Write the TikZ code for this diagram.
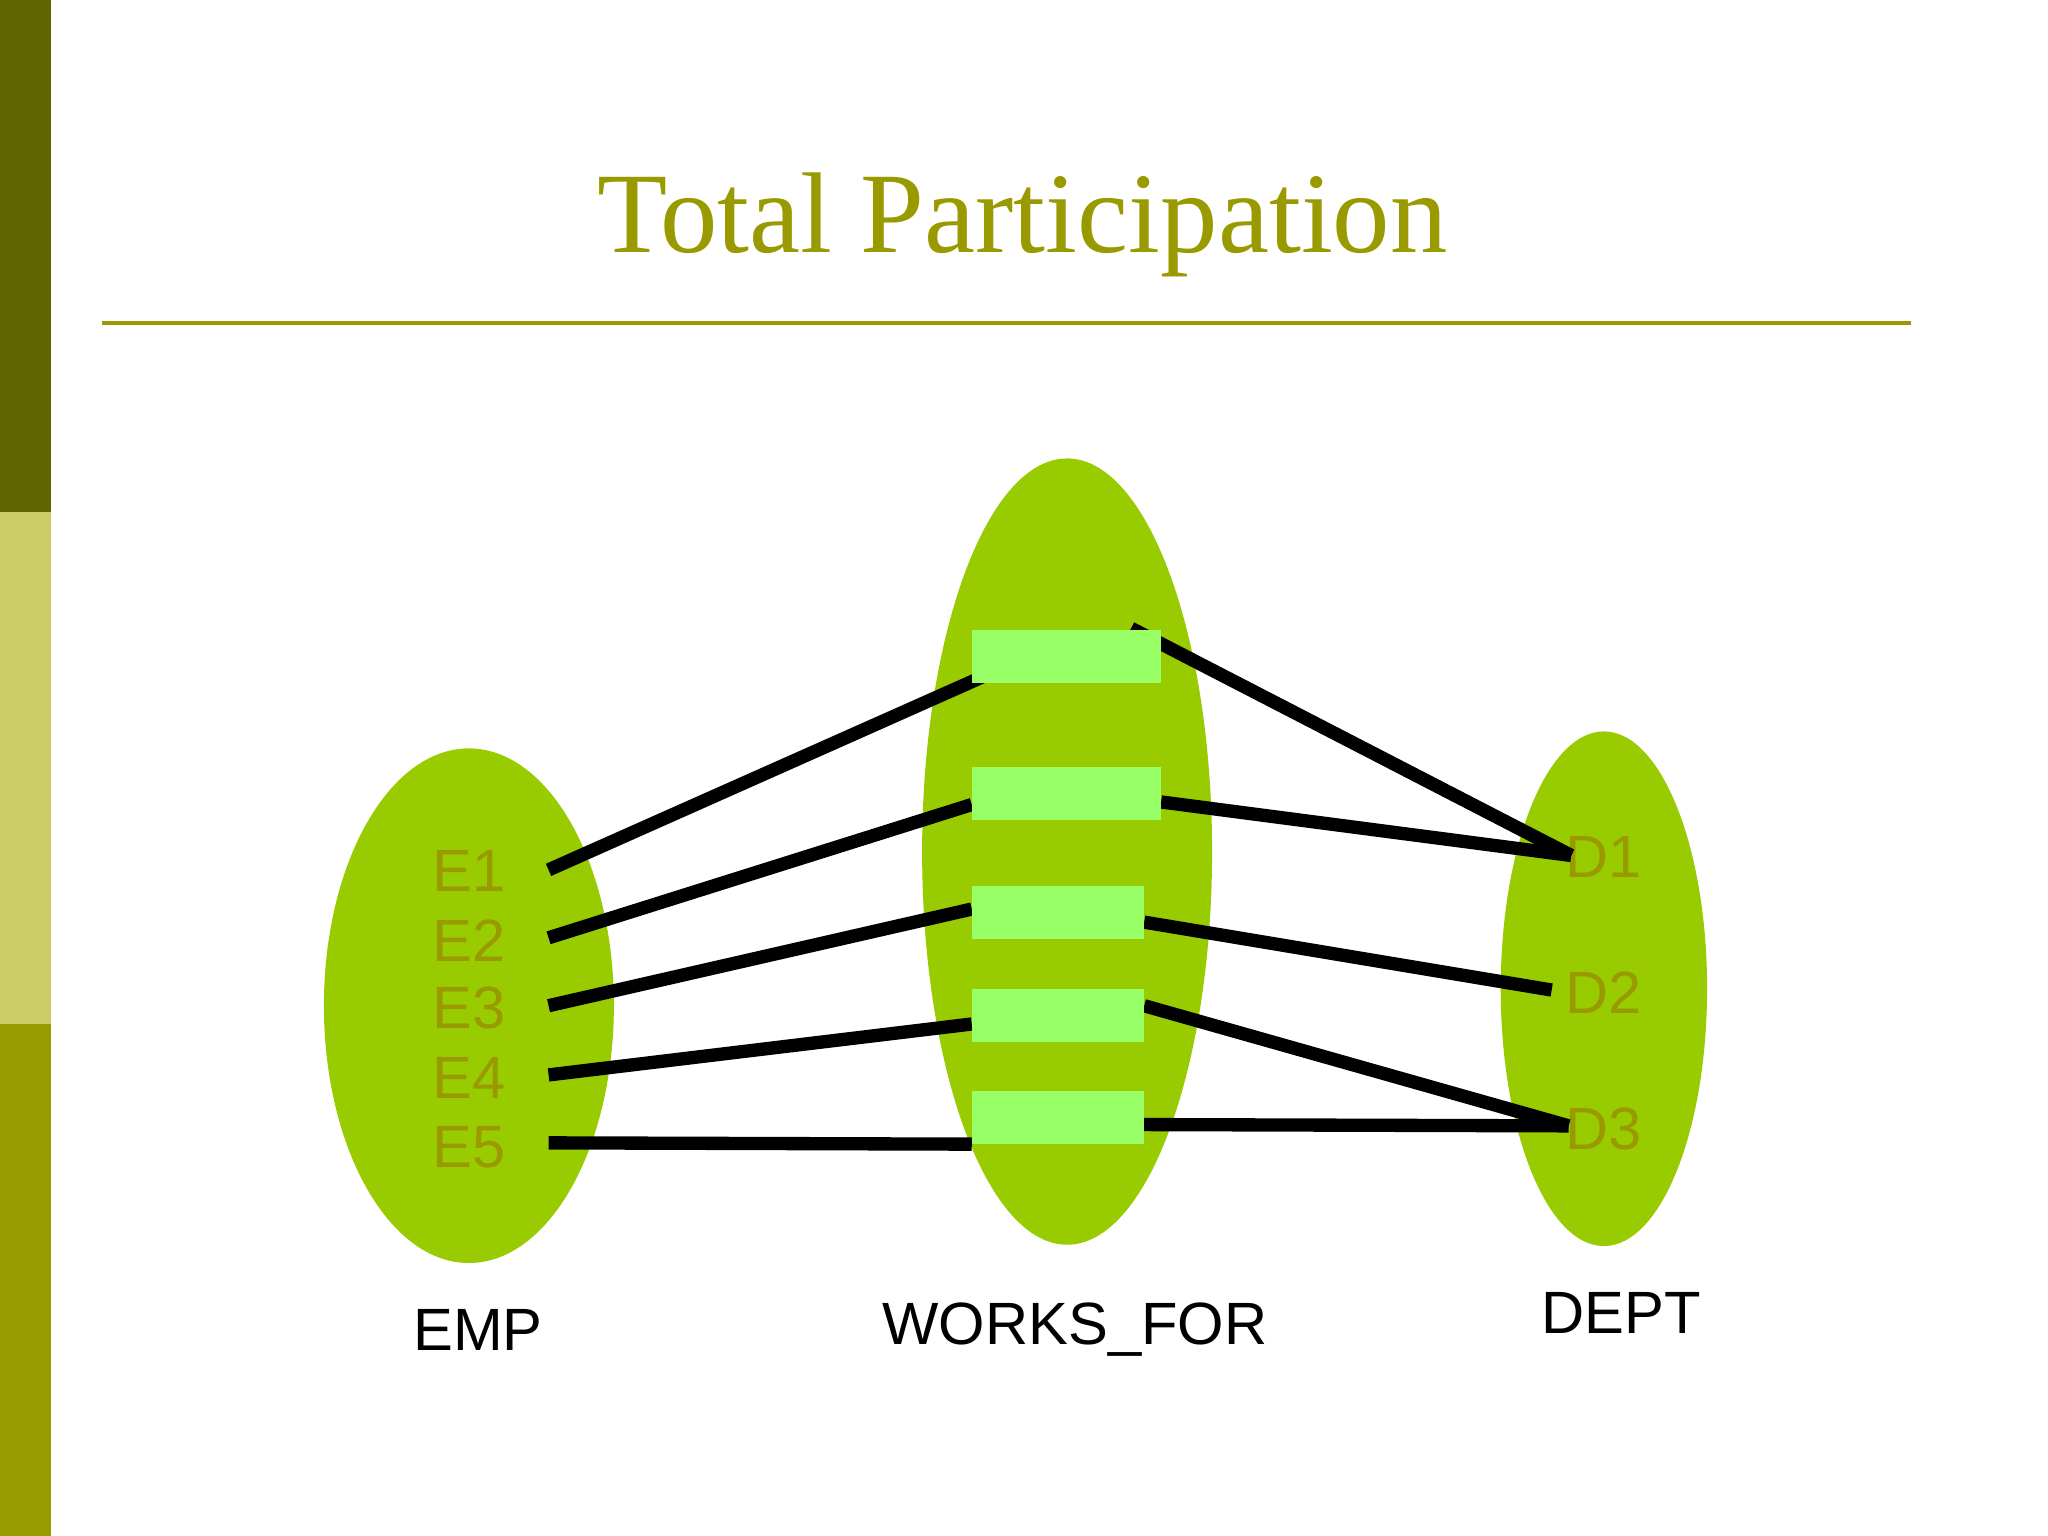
\documentclass[tikz,border=0pt]{standalone}
\usepackage{fontspec}
\setmainfont{Liberation Serif}
\setsansfont{Liberation Sans}
\definecolor{olive1}{HTML}{5F6300}
\definecolor{olive2}{HTML}{CCCC66}
\definecolor{olive3}{HTML}{999900}
\definecolor{ellg}{HTML}{99CC00}
\definecolor{boxg}{HTML}{99FF66}
\begin{document}
\begin{tikzpicture}[x=0.01cm,y=-0.01cm,
  ell/.style={fill=ellg,draw=none},
  rel/.style={fill=boxg,draw=none},
  lnk/.style={line width=2.9pt,black},
  ent/.style={font=\sffamily\fontsize{13}{13}\selectfont,text=olive3},
  caplabel/.style={font=\sffamily\fontsize{13}{13}\selectfont,text=black}]
\useasboundingbox (0,0) rectangle (1568,1176);
\fill[white] (0,0) rectangle (1568,1176);
\fill[olive1] (0,0) rectangle (39,392);
\fill[olive2] (0,392) rectangle (39,784);
\fill[olive3] (0,784) rectangle (39,1176);
\node[text=olive3,font=\fontsize{25}{25}\selectfont] (title) at (783,172) {Total Participation};
\draw[olive3,line width=0.9pt] (78,247) -- (1463,247);
\fill[ell] (359,770) ellipse [x radius=111,y radius=197];
\fill[ell] (817,652) ellipse [x radius=111,y radius=301];
\fill[ell] (1228,757) ellipse [x radius=79,y radius=197];
\foreach \i/\y in {1/667,2/720,3/772,4/825,5/878} \node[ent] (e\i) at (359,\y) {E\i};
\node[ent] (d1) at (1228,656) {D1};
\node[ent] (d2) at (1228,760) {D2};
\node[ent] (d3) at (1228,864) {D3};
\coordinate (e1r) at (420,666); \coordinate (e2r) at (420,718); \coordinate (e3r) at (420,770);
\coordinate (e4r) at (420,823); \coordinate (e5r) at (420,875);
\coordinate (d1l) at (1203,655); \coordinate (d2l) at (1188,758); \coordinate (d3l) at (1201,862);
\draw[lnk] (e1r) -- (755,517);
\draw[lnk] (866,481) -- (d1l);
\draw[lnk] (889,614) -- (d1l);
\draw[lnk] (e2r) -- (744,616);
\draw[lnk] (e3r) -- (744,696);
\draw[lnk] (876,706) -- (d2l);
\draw[lnk] (e4r) -- (744,784);
\draw[lnk] (876,770) -- (d3l);
\draw[lnk] (e5r) -- (744,876);
\draw[lnk] (876,861) -- (d3l);
\fill[rel] (744,482) rectangle (889,523);
\fill[rel] (744,587) rectangle (889,628);
\fill[rel] (744,678) rectangle (876,719);
\fill[rel] (744,757) rectangle (876,798);
\fill[rel] (744,835) rectangle (876,876);
\node[caplabel] (emp) at (366,1018) {EMP};
\node[caplabel] (wf) at (823,1018) {WORKS\_FOR};
\node[caplabel] (dept) at (1241,1005) {DEPT};
\end{tikzpicture}
\end{document}
